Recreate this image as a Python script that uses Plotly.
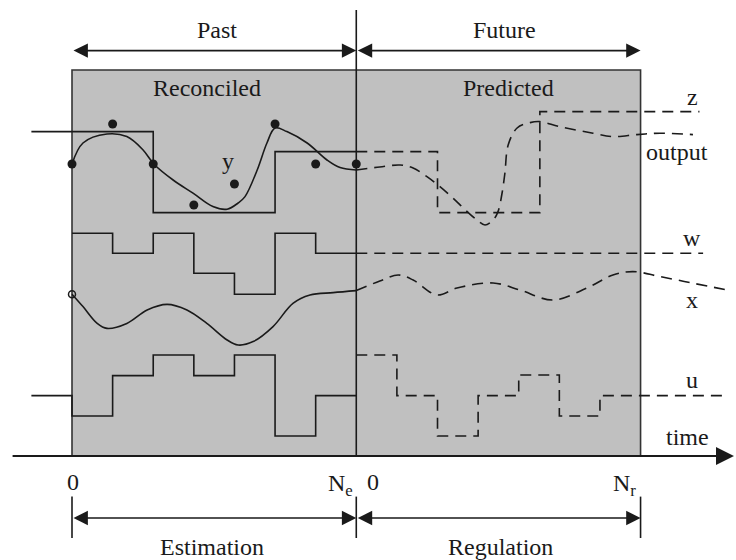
import plotly.graph_objects as go

# time axis in sampling steps: estimation horizon 0..N_e, regulation N_e..N_e+N_r
N_E = 7
N_R = 7
BOX_TOP = 19.3

# measured outputs (dots) at each past sample
meas_t = [0, 1, 2, 3, 4, 5, 6, 7]
meas_y = [14.6, 16.6, 14.6, 12.55, 13.6, 16.6, 14.6, 14.6]

# reconciled output (solid) and predicted output (dashed)
out_past_t = [0, 0.27, 0.86, 1.35, 1.75, 2.02, 2.49, 2.98, 3.47, 3.82, 4.09, 4.26,
              4.56, 4.8, 5.0, 5.29, 5.79, 6.28, 6.6, 7.0]
out_past_y = [14.59, 15.65, 16.1, 15.97, 15.3, 14.59, 13.8, 13.14, 12.47, 12.34, 12.65, 12.97,
              14.3, 15.65, 16.4, 16.22, 15.65, 14.8, 14.42, 14.3]
out_fut_t = [7.0, 7.58, 8.08, 8.4, 8.74, 9.06, 9.38, 9.73, 9.97, 10.17, 10.37, 10.49,
             10.59, 10.66, 10.74, 10.96, 11.28, 11.52, 12.01, 12.83, 13.32, 13.91, 14.48, 15.29]
out_fut_y = [14.3, 14.45, 14.55, 14.4, 13.97, 13.47, 12.9, 12.22, 11.8, 11.55, 11.8, 12.22,
             13.15, 14.15, 15.55, 16.4, 16.67, 16.72, 16.47, 16.14, 15.97, 16.07, 16.14, 16.07]

# setpoint z
z_past_t = [-1, 2, 5, 7]
z_past_y = [16.22, 12.17, 15.22, 15.22]
z_fut_t = [7, 9, 11.52, 15.45]
z_fut_y = [15.22, 12.17, 17.22, 17.22]

# disturbance w
w_past_t = [0, 1, 2, 3, 4, 5, 6, 7]
w_past_y = [11.14, 10.14, 11.14, 9.14, 8.09, 11.14, 10.14, 10.14]
w_fut_t = [7, 15.54]
w_fut_y = [10.14, 10.14]

# state x
x_past_t = [0, 0.27, 0.62, 0.86, 1.35, 1.85, 2.34, 2.83, 3.32, 3.82, 4.09, 4.46,
            4.95, 5.44, 5.86, 6.43, 7.0]
x_past_y = [8.09, 7.47, 6.63, 6.38, 6.63, 7.3, 7.58, 7.3, 6.63, 5.8, 5.55, 5.72,
            6.47, 7.63, 8.05, 8.17, 8.27]
x_fut_t = [7.0, 7.58, 8.03, 8.4, 8.99, 9.48, 10.37, 11.03, 11.84, 12.68, 13.32, 13.81,
           14.48, 15.29, 16.13]
x_fut_y = [8.27, 8.75, 9.05, 8.8, 8.05, 8.4, 8.65, 8.3, 7.8, 8.4, 9.05, 9.22,
           8.97, 8.64, 8.3]

# input u
u_past_t = [-1, 0, 1, 2, 3, 4, 5, 6, 7]
u_past_y = [3.02, 2.0, 4.02, 5.05, 4.02, 5.05, 1.0, 3.02, 3.02]
u_fut_t = [7, 8, 9, 10, 11, 12, 13, 16.03]
u_fut_y = [5.05, 3.02, 1.0, 3.02, 4.05, 2.0, 3.02, 3.02]

INK = "#1a1a1a"
DASH = "11px,7px"
FONT = "Liberation Serif, Times New Roman, DejaVu Serif, serif"

fig = go.Figure()


def add_line(t, y, dashed=False, shape="linear"):
    fig.add_trace(go.Scatter(
        x=t, y=y, mode="lines", hoverinfo="skip", showlegend=False,
        line=dict(color=INK, width=1.6, shape=shape, dash=DASH if dashed else "solid"),
    ))


add_line(z_past_t, z_past_y, shape="hv")
add_line(z_fut_t, z_fut_y, dashed=True, shape="hv")
add_line(w_past_t, w_past_y, shape="hv")
add_line(w_fut_t, w_fut_y, dashed=True, shape="hv")
add_line(u_past_t, u_past_y, shape="hv")
add_line(u_fut_t, u_fut_y, dashed=True, shape="hv")
add_line(out_past_t, out_past_y, shape="spline")
add_line(out_fut_t, out_fut_y, dashed=True, shape="spline")
add_line(x_past_t, x_past_y, shape="spline")
add_line(x_fut_t, x_fut_y, dashed=True, shape="spline")

fig.add_trace(go.Scatter(
    x=meas_t, y=meas_y, mode="markers", showlegend=False, hoverinfo="skip",
    marker=dict(color=INK, size=9),
))
fig.add_trace(go.Scatter(
    x=[x_past_t[0]], y=[x_past_y[0]], mode="markers", showlegend=False, hoverinfo="skip",
    marker=dict(color="rgba(0,0,0,0)", size=7, line=dict(color=INK, width=1.5)),
))

t_end = N_E + N_R
shapes = [
    dict(type="rect", x0=0, x1=t_end, y0=0, y1=BOX_TOP, fillcolor="#c0c0c0",
         line=dict(color="#333333", width=1.6), layer="below"),
    dict(type="line", x0=N_E, x1=N_E, y0=0, y1=22.3, line=dict(color=INK, width=1.6)),
]
for tk in [0, N_E, t_end]:
    shapes.append(dict(type="line", x0=tk, x1=tk, y0=-2.03, y1=-4.1,
                       line=dict(color=INK, width=1.6)))

annotations = []


def arrow(x0, x1, y, both=True, width=1.6):
    annotations.append(dict(
        x=x1, y=y, ax=x0, ay=y, xref="x", yref="y", axref="x", ayref="y",
        text="", showarrow=True, arrowhead=2, arrowsize=1.8, arrowwidth=width,
        arrowcolor=INK, arrowside="end+start" if both else "end",
        standoff=0, startstandoff=0,
    ))


arrow(0, N_E, 20.27)
arrow(N_E, t_end, 20.27)
arrow(0, N_E, -3.1)
arrow(N_E, t_end, -3.1)
arrow(-1.5, 16.3, 0, both=False, width=2)


def label(text, x, y, anchor="center"):
    annotations.append(dict(
        x=x, y=y, xref="x", yref="y", text=text, showarrow=False, xanchor=anchor,
        yanchor="middle", font=dict(family=FONT, size=24, color=INK),
    ))


label("Past", 3.57, 21.3)
label("Future", 10.66, 21.3)
label("Reconciled", 3.32, 18.4)
label("Predicted", 10.74, 18.4)
label("y", 3.84, 14.75)
label("z", 15.27, 17.97)
label("output", 14.9, 15.2)
label("w", 15.27, 10.9)
label("x", 15.27, 7.8)
label("u", 15.27, 3.8)
label("time", 15.16, 0.97)
label("0", 0.02, -1.3)
label("N<sub>e</sub>", 6.62, -1.45)
label("0", 7.4, -1.3)
label("N<sub>r</sub>", 13.6, -1.45)
label("Estimation", 3.44, -4.53)
label("Regulation", 10.56, -4.53)

fig.update_layout(
    width=736, height=560,
    margin=dict(l=0, r=0, t=0, b=0),
    paper_bgcolor="white", plot_bgcolor="white",
    font=dict(family=FONT),
    xaxis=dict(range=[-1.773, 16.35], visible=False, fixedrange=True),
    yaxis=dict(range=[-5.2, 22.8], visible=False, fixedrange=True),
    shapes=shapes,
    annotations=annotations,
    showlegend=False,
)

# page body has a default 8px margin; drop it so the figure fills the window
fig.write_html("out.html", config={"displayModeBar": False},
               post_script="document.body.style.margin = '0';")
